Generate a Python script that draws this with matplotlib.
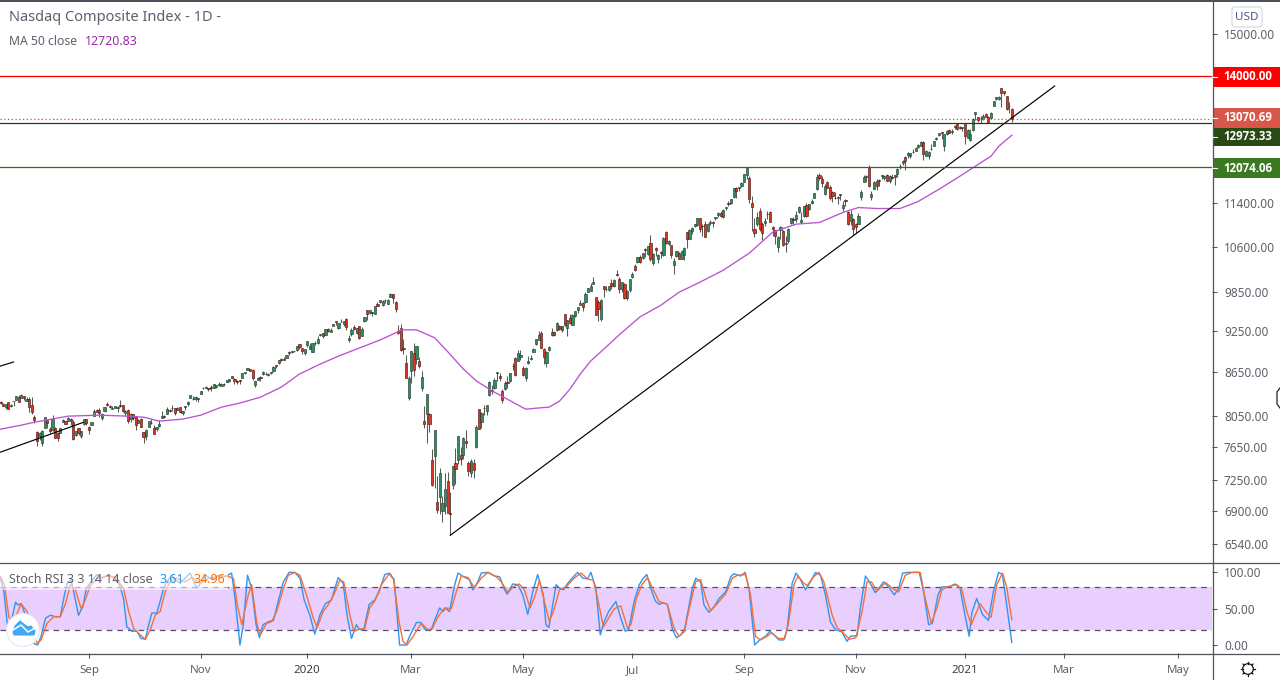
from matplotlib import pyplot as plt
from matplotlib.patches import Rectangle, Circle, FancyBboxPatch, Polygon
from matplotlib.ticker import FormatStrFormatter, NullLocator
import numpy as np

plt.rcParams['font.family'] = ['Noto Sans', 'DejaVu Sans']

# daily candles, 16 Jul 2019 - 29 Jan 2021, one line per month
opens = [
    8233,8212,8165,8232,8183,8248,8269,8311,8290,8324,8249,8278,
    8195,8041,7851,7792,7700,7900,8003,7880,7872,7900,7834,7836,7980,7985,7985,8010,7980,7805,7890,7800,7945,8010,
    7906,7932,8053,8136,8130,8031,8122,8214,8184,8145,8152,8160,8196,8192,8085,8130,8018,8075,8040,7966,
    8015,7845,7788,7910,7960,7890,7886,7916,8032,8040,8080,8122,8160,8156,8130,8170,8085,8170,8210,8292,8280,8280,8275,
    8350,8430,8434,8425,8440,8430,8442,8468,8452,8479,8512,8530,8590,8550,8530,8535,8570,8640,8680,8690,
    8680,8465,8540,8580,8625,8620,8610,8640,8660,8750,8780,8830,8840,8850,8940,8940,8955,8960,9050,8995,8920,
    9039,8976,8943,9071,9068,9180,9212,9193,9282,9230,9316,9395,9300,9380,9350,9426,9107,9198,9315,9220,9324,
    9175,9405,9563,9518,9540,9505,9666,9690,9640,9725,9665,9780,9820,9700,9240,9300,9000,8776,8290,
    8667,8920,8840,8800,8430,7990,8074,8080,7490,7550,7000,7060,6900,6950,7240,6870,7200,7460,7500,7560,7560,7735,
    7460,7340,7460,7650,8140,7980,8160,8120,8330,8400,8430,8640,8600,8390,8420,8510,8520,8740,8850,8810,8870,
    8700,8560,8780,8830,8940,9050,9120,9220,8980,8780,8960,9180,9230,9260,9320,9270,9500,9290,9450,9340,
    9470,9570,9650,9680,9700,9850,9870,9990,9770,9690,9430,9950,9910,9890,10000,9950,10140,10070,9900,9980,9760,9880,
    10090,10280,10350,10430,10420,10570,10480,10670,10330,10580,10400,10520,10470,10870,10650,10630,10300,10450,10500,10400,10470,10860,
    10740,10880,10970,10990,11110,10970,11000,10880,11020,11050,11110,11170,11200,11130,11290,11400,11400,11500,11680,11680,11720,
    11780,11930,11860,11400,10920,11010,11240,11000,11020,11190,11230,10950,10900,10600,10900,10890,10650,10700,11020,11100,11090,
    11230,11050,11150,11360,11280,11400,11480,11660,11930,11850,11560,11780,11700,11590,11490,11490,11550,11300,11440,11230,11070,11100,
    11000,11010,11500,11790,11890,12080,11500,11660,11800,11800,11900,11860,11930,11800,11890,11920,11950,12100,12150,12280,
    12310,12290,12370,12400,12470,12500,12590,12300,12300,12440,12500,12650,12720,12780,12500,12750,12820,12790,12920,12950,12900,12870,
    12960,12670,12620,12820,13170,13100,13090,13060,13170,13110,13090,13330,13500,13490,13730,13680,13550,13330,13280,
]
highs = [
    8252,8218,8212,8238,8212,8256,8324,8330,8340,8325,8300,8299,
    8311,8060,7852,7840,7866,8042,8004,7912,8066,7910,7848,7900,8018,7991,8035,8020,8000,7854,7898,7864,8019,8016,
    7917,7979,8145,8141,8160,8091,8175,8241,8199,8184,8187,8186,8260,8194,8133,8140,8085,8078,8049,8017,
    8027,7846,7878,7985,8010,7930,7914,7998,8115,8066,8165,8140,8191,8160,8167,8177,8120,8190,8255,8334,8320,8318,8297,
    8390,8444,8455,8432,8473,8481,8467,8510,8494,8500,8543,8552,8593,8560,8534,8541,8632,8650,8706,8695,
    8690,8525,8578,8592,8670,8650,8630,8656,8736,8754,8823,8849,8869,8893,8945,8957,8953,9022,9053,8997,8974,
    9093,9066,9072,9092,9168,9204,9212,9274,9298,9294,9357,9390,9372,9424,9402,9451,9187,9287,9332,9300,9325,
    9304,9467,9568,9572,9542,9629,9700,9725,9724,9735,9738,9838,9821,9705,9345,9347,9130,8890,8600,
    8953,9070,9026,8860,8670,8180,8348,8090,7630,7875,7300,7400,7070,7340,7350,7120,7420,7640,7800,7650,7775,7875,
    7480,7510,7510,7930,8150,8100,8200,8200,8520,8470,8570,8650,8640,8410,8530,8600,8640,8780,8860,8960,8970,
    8730,8720,8880,8900,8990,9125,9250,9240,8990,8950,9020,9290,9250,9380,9340,9330,9500,9415,9500,9500,
    9560,9610,9720,9690,9850,9925,10000,10090,9770,9720,9740,9950,9950,9950,10060,10060,10220,10100,10020,9995,9880,10070,
    10180,10310,10440,10460,10500,10590,10620,10820,10500,10610,10480,10540,10780,10880,10720,10640,10420,10540,10510,10560,10600,10870,
    10920,10950,11010,11110,11110,11010,11060,11020,11080,11060,11130,11220,11240,11280,11320,11420,11470,11670,11690,11700,11780,
    11950,12074,11910,11530,11110,11220,11300,11040,11120,11240,11250,10970,10900,10790,10970,10900,10800,10940,11120,11140,11250,
    11340,11220,11340,11400,11370,11460,11580,11940,11960,11900,11740,11800,11730,11610,11600,11520,11560,11430,11470,11240,11270,11110,
    11030,11200,11640,11920,11920,12110,11620,11800,11840,11840,11930,11920,11950,11920,11950,11930,12050,12130,12210,12290,
    12370,12360,12440,12470,12530,12600,12610,12410,12400,12540,12600,12690,12770,12780,12750,12820,12850,12840,12930,12970,12910,12900,
    12960,12840,12860,13090,13210,13110,13130,13160,13190,13130,13200,13460,13540,13560,13730,13680,13550,13430,13290,
]
lows = [
    8206,8184,8150,8141,8172,8190,8260,8232,8288,8271,8246,8100,
    8080,7960,7662,7740,7663,7892,7890,7830,7860,7772,7731,7832,7977,7946,7982,7930,7744,7792,7801,7768,7940,7935,
    7819,7933,8053,8100,8035,7999,8100,8188,8159,8140,8152,8100,8175,8098,8051,7956,7980,7999,7875,7965,
    7905,7700,7742,7905,7943,7820,7859,7903,8030,8030,8078,8109,8122,8065,8130,8103,8060,8129,8189,8290,8260,8252,8243,
    8343,8420,8422,8387,8390,8427,8434,8460,8450,8450,8510,8515,8560,8478,8487,8480,8570,8617,8680,8660,
    8542,8435,8535,8531,8610,8605,8590,8628,8645,8700,8770,8810,8825,8850,8900,8925,8938,8958,8976,8905,8900,
    9011,8975,8943,9042,9060,9165,9150,9193,9234,9225,9316,9340,9280,9378,9320,9270,9089,9175,9262,9195,9121,
    9170,9380,9420,9510,9482,9500,9630,9685,9635,9680,9664,9780,9680,9534,9207,8944,8905,8565,8265,
    8490,8590,8760,8700,8380,7900,7700,7850,7190,7160,6880,6860,6780,6860,6870,6630,7150,7210,7450,7430,7510,7640,
    7300,7290,7280,7640,7880,7900,8060,8060,8320,8350,8420,8520,8530,8230,8400,8430,8510,8680,8590,8800,8820,
    8600,8530,8760,8820,8930,9040,9110,9000,8760,8720,8950,9170,9170,9250,9260,9230,9330,9170,9350,9340,
    9460,9530,9640,9560,9680,9850,9870,9980,9490,9400,9400,9780,9870,9870,9900,9940,10110,9830,9860,9750,9720,9860,
    10080,10190,10330,10330,10390,10440,10460,10370,10300,10450,10330,10420,10450,10650,10630,10410,10150,10430,10390,10400,10380,10580,
    10740,10830,10950,10970,10870,10800,10770,10870,10990,10950,11080,11140,11130,11120,11260,11340,11370,11490,11480,11620,11700,
    11780,11840,11400,10880,10780,10970,10890,10730,10980,11100,11040,10790,10650,10520,10740,10620,10520,10680,11000,10990,11040,
    11200,11020,11130,11140,11270,11380,11480,11640,11820,11690,11540,11670,11450,11410,11460,11380,11440,11250,11340,10990,10990,10820,
    10840,11000,11450,11780,11790,11700,11450,11650,11640,11720,11850,11820,11800,11770,11850,11730,11880,12030,12120,12020,
    12260,12260,12360,12390,12450,12490,12210,12290,12230,12420,12500,12630,12700,12650,12400,12730,12770,12740,12860,12820,12840,12810,
    12540,12660,12600,12810,13040,13000,12970,13040,13100,12980,13080,13330,13470,13470,13310,13580,13260,13180,13000,
]
closes = [
    8222,8186,8207,8146,8204,8251,8321,8238,8330,8293,8273,8175,
    8111,8004,7726,7833,7862,8040,7959,7863,8017,7774,7767,7896,8002,7949,8020,7991,7751,7853,7827,7856,8016,7963,
    7874,7977,8116,8103,8087,8084,8170,8195,8176,8153,8186,8177,8182,8118,8112,7993,8077,8031,7940,7999,
    7908,7785,7872,7982,7956,7823,7903,7951,8057,8048,8149,8125,8157,8090,8163,8105,8120,8186,8243,8326,8277,8304,8292,
    8386,8434,8435,8411,8434,8476,8464,8486,8482,8479,8541,8550,8571,8526,8506,8520,8632,8648,8705,8665,
    8568,8521,8567,8570,8656,8621,8616,8654,8717,8735,8814,8823,8827,8887,8924,8945,8952,9022,9007,8945,8973,
    9092,9020,9071,9068,9129,9203,9178,9274,9251,9258,9357,9388,9370,9383,9402,9314,9139,9269,9275,9298,9150,
    9273,9467,9508,9572,9520,9628,9638,9725,9711,9731,9732,9817,9751,9577,9221,8965,8980,8567,8567,
    8952,8684,9019,8738,8576,7950,8344,7952,7201,7875,6904,7334,6989,7150,6880,6861,7418,7384,7798,7502,7774,7700,
    7360,7487,7374,7913,7887,8090,8153,8192,8515,8393,8532,8650,8560,8263,8495,8495,8634,8730,8607,8915,8889,
    8605,8710,8810,8854,8979,9121,9192,9002,8863,8943,9014,9235,9185,9375,9284,9325,9340,9412,9369,9490,
    9552,9609,9683,9616,9814,9924,9953,10020,9492,9589,9726,9895,9910,9943,9946,10056,10131,9909,10017,9757,9874,10059,
    10154,10207,10433,10344,10492,10547,10617,10390,10488,10550,10473,10503,10767,10680,10706,10461,10363,10536,10402,10542,10587,10745,
    10902,10941,11002,11108,10914,10968,10782,11012,11042,11019,11129,11210,11146,11265,11311,11380,11466,11665,11625,11696,11775,
    11939,12056,11458,11313,10847,11141,10919,10853,11056,11190,11050,10910,10793,10778,10963,10632,10672,10914,11117,11085,11168,
    11326,11075,11332,11154,11364,11420,11579,11876,11863,11768,11713,11671,11478,11516,11485,11506,11548,11358,11431,10999,11185,10912,
    10957,11161,11590,11891,11895,11713,11553,11786,11710,11829,11925,11899,11802,11904,11855,11881,12037,12095,12206,12199,
    12355,12349,12377,12464,12519,12583,12339,12406,12378,12440,12595,12658,12764,12756,12742,12807,12771,12805,12900,12850,12870,12888,
    12698,12819,12741,13067,13202,13036,13072,13129,13112,12999,13197,13457,13530,13543,13635,13626,13271,13337,13071,
]

# MA 50
ma_bars = [0,8,13,26,38,49,55,61,70,77,85,92,100,108,115,123,131,138,146,152,154,160,167,172,178,183,189,197,202,206,211,215,219,223,227,231,238,246,254,261,269,278,288,297,306,315,324,330,337,346,353,361,369,375,381,384,389]
ma_vals = [7881,7933,7971,8050,8063,8050,8037,7985,8011,8063,8169,8223,8303,8439,8622,8763,8892,8994,9113,9220,9265,9265,9146,8942,8693,8526,8390,8236,8142,8155,8169,8249,8411,8622,8806,8942,9190,9463,9644,9850,10012,10210,10497,10862,11005,11035,11216,11307,11289,11289,11419,11649,11898,12094,12294,12495,12720]

# Stoch RSI, K and D
k_bars = [0,1.3,2.8,4,5.8,6.7,7.9,9.6,11.3,12.8,14.3,15.6,17.3,19.2,21.1,23,24.3,25.6,27.1,28.8,30,31.7,33,34.8,37.1,39,41.2,43.5,45.8,47.3,48.6,50.5,52.5,54,55.7,57,58.2,60.1,61.4,62.7,64,65.9,67.2,69.1,71,72.9,75.5,77.4,78.7,81.3,83.8,86.4,88.9,90.2,92.1,93.4,95,96.6,98.3,
    99.6,101,103,105,106.8,108.8,111,113.2,115.2,116.8,119,120.9,122.8,125,127.3,129.9,131.8,133.3,135,136.9,138.2,139.7,141.8,144,145.6,147.8,149.7,151.4,153.5,156,157.6,160,161.6,163.4,165.7,167,168.9,170.2,171.1,172.7,174.7,176,178.1,180.4,181.7,183.6,184.9,187.5,190,192,193.9,194.9,197,
    199,200.9,202.8,204.7,206.6,208.8,209.8,210.9,212.4,213.7,215.2,216.6,218.2,220.1,222,224,225.8,227.1,229,230.7,232.2,233.9,236.7,238.6,240.3,241.6,243.7,245.7,247,248.6,250.1,251.8,253.3,254.9,256.5,258.5,260,261.7,263.2,266.1,267.4,269.3,270.6,272.5,274.5,276.4,278.9,280.9,282.1,284.7,286.4,287.9,290.1,292,294.3,295.9,297.5,
    299.4,301.3,302.6,304.5,306,307.7,309.6,311.2,313.5,315.4,317.3,319.2,321.2,323.7,325.6,326.9,329.5,330.7,332.7,334.2,336.5,339.7,341.6,343.8,345.5,347,349.3,353.4,355.1,357,358.5,360.6,362.1,364.7,367.2,369.1,371,372.6,373.6,375.5,377.7,380,381.9,383.9,385.4,389]
k_vals = [92,73,23,30,59,55,57,41,18,2,0,12,37,41,39,39,64,85,90,62,41,53,78,87,97,92,96,93,83,64,25,19,19,9,8,28,44,44,60,78,87,96,90,85,92,99,78,87,97,90,96,94,99,64,0,28,96,78,28,
    10,28,32,34,60,87,100,100,92,62,41,15,41,57,62,93,85,41,9,28,21,21,56,62,73,97,99,90,0,0,14,31,31,21,21,34,51,46,51,46,83,99,94,90,76,87,99,100,95,94,76,70,84,
    83,69,42,73,97,69,28,24,55,83,78,76,85,93,100,92,91,100,78,14,32,46,60,37,19,21,60,83,91,97,78,61,56,58,56,21,10,14,23,78,92,87,55,45,53,64,73,94,98,95,100,78,0,7,12,19,14,
    7,7,23,85,99,90,76,85,100,96,69,32,21,18,5,12,13,50,95,87,72,87,80,69,78,99,100,100,73,28,30,69,80,80,84,78,41,12,44,64,42,34,73,100,97,3.61]
d_bars = [0,1.5,3.2,4.5,6.1,7.9,10.2,12.2,14.1,15.6,17.9,20.5,23,25,26.9,28.8,31,32.6,34.5,37.1,41,44.1,47.3,49.3,51.2,53.7,55.7,57.6,59.5,61.4,63.3,65.3,67.8,71,73.6,76.8,80,83.2,87,89.6,91.1,92.8,95.3,96.6,98.5,
    99.8,102.4,104.3,106.2,108.8,110.7,113.2,115.2,117.7,120.3,121.8,124.1,126,128.2,130.5,132,134.4,135.9,138.2,140.1,142,144,146.5,149.5,151.2,153.3,154.8,156.4,158.7,161.9,164.4,166.1,168.3,170.8,173.4,175.3,177.2,179.8,182.3,184.9,187.5,190.7,192.6,195.2,197.1,
    199.5,201.5,203.7,205.7,207.3,209.2,211.1,213,215,217.5,220.7,223.3,225.8,228,229.7,231.9,233.9,236.1,238.6,241.2,242.5,244.6,246.7,248.9,250.8,253.3,256.5,259.1,261,263,265.1,267.4,269.3,271.3,273.2,275.7,278.9,281.5,283.4,286.6,288.5,290.4,292.3,294.9,296.6,299.2,
    301.7,303.2,305.2,306.8,309,310.3,312.8,314.8,316.7,319.9,321.8,324.4,326.5,329,331.4,333.3,335,337.1,340.4,343.5,345.5,348,350.6,353.8,355.7,358,360.2,362.1,364,367.9,369.8,371.7,373.4,374.9,376.8,379,381,383.2,385.4,387,389]
d_vals = [94,83,39,32,41,57,46,23,2,7,30,39,39,57,83,76,50,62,82,91,95,94,78,46,23,14,8,21,41,46,73,87,92,87,93,85,92,94,95,92,55,28,69,83,32,
    13,30,32,46,78,96,100,96,69,37,24,46,55,69,89,87,41,19,22,23,51,61,83,98,90,32,5,0,12,30,21,23,39,51,50,73,95,93,79,92,100,94,87,72,80,
    84,76,51,69,89,60,32,50,76,80,92,99,91,89,64,25,37,50,54,23,28,64,83,93,78,60,56,23,12,18,53,87,90,64,47,57,70,92,96,97,69,12,7,12,17,9,
    9,32,83,95,85,82,94,100,87,41,24,16,8,10,46,87,87,74,86,77,73,96,100,100,64,30,51,76,80,83,76,46,28,41,57,46,38,83,99,80,34.96]

# drawn lines: (bar, price) ends
trend_main = ([173, 405.5], [6630, 13782])
trend_left = ([0, 32], [7592, 7971])
trend_top = ([0, 5], [8735, 8792])
level_red = 14000
level_last = 13070.69
level_dark = 12973.33
level_green = 12074.06

price_ticks = [15000, 11400, 10600, 9850, 9250, 8650, 8050, 7650, 7250, 6900, 6540]
stoch_ticks = [100, 50, 0]
month_bars = [34, 77, 118, 158, 201, 243, 286, 329, 371, 409, 453]
month_labels = ['Sep', 'Nov', '2020', 'Mar', 'May', 'Jul', 'Sep', 'Nov', '2021', 'Mar', 'May']

grey = '#5d606b'
axis_col = '#50535e'
W, H = 1280, 680

fig = plt.figure(figsize=(W / 100, H / 100), dpi=100)
ax = fig.add_axes([0, (H - 562) / H, 1212 / W, 561 / H])
ax2 = fig.add_axes([0, (H - 653) / H, 1212 / W, 90 / H])
ov = fig.add_axes([0, 0, 1, 1], zorder=10)
ov.set_xlim(0, W)
ov.set_ylim(H, 0)
ov.axis('off')
ov.patch.set_alpha(0)

bars = np.arange(len(closes))
o = np.array(opens, float)
c = np.array(closes, float)
up = c >= o

ax.set_yscale('log')
ax.vlines(bars, lows, highs, color='#5a5a5a', lw=0.75, zorder=2)
ax.bar(bars[up], c[up] - o[up], bottom=o[up], width=0.82, color='#2f8f63', edgecolor='#23402f', linewidth=0.45, zorder=3)
ax.bar(bars[~up], o[~up] - c[~up], bottom=c[~up], width=0.82, color='#dc3520', edgecolor='#4a1a12', linewidth=0.45, zorder=3)
ax.plot(ma_bars, ma_vals, color='#b952d2', lw=0.95, zorder=4)

ax.plot(*trend_main, color='black', lw=0.85, zorder=5)
ax.plot(*trend_left, color='black', lw=0.85, zorder=5)
ax.plot(*trend_top, color='black', lw=0.85, zorder=5)
ax.axhline(level_red, color='#f00000', lw=0.9, zorder=5)
ax.axhline(level_last, color='#e0483a', lw=0.9, ls=(0, (1, 2)), zorder=5)
ax.axhline(level_dark, color='#233f10', lw=0.9, zorder=5)
ax.axhline(level_green, color='#2e6b1e', lw=0.9, zorder=5)

xlim = (-0.2, 466)
ax.set_xlim(*xlim)
ax.set_ylim(6348, 15828)
ax.set_xticks([])
ax.yaxis.tick_right()
ax.set_yticks(price_ticks)
ax.yaxis.set_minor_locator(NullLocator())
ax.yaxis.set_major_formatter(FormatStrFormatter('%.2f'))
ax.tick_params(axis='y', length=3.6, width=0.75, color=axis_col, labelcolor=grey, labelsize=8.5, pad=5)

# stoch pane
ax2.axhspan(20, 80, color='#e9cffd', lw=0, zorder=1)
ax2.axhline(80, color='#5b4b6b', lw=0.9, ls=(0, (4.5, 4)), zorder=2)
ax2.axhline(20, color='#5b4b6b', lw=0.9, ls=(0, (4.5, 4)), zorder=2)
ax2.plot(k_bars, k_vals, color='#2f95f0', lw=1.0, zorder=3)
ax2.plot(d_bars, d_vals, color='#f4703a', lw=1.0, zorder=4)
ax2.set_xlim(*xlim)
ax2.set_ylim(-11, 112.9)
ax2.yaxis.tick_right()
ax2.set_yticks(stoch_ticks)
ax2.yaxis.set_major_formatter(FormatStrFormatter('%.2f'))
ax2.tick_params(axis='y', length=3.6, width=0.75, color=axis_col, labelcolor=grey, labelsize=8.5, pad=5)
ax2.set_xticks(month_bars)
ax2.set_xticklabels(month_labels)
ax2.tick_params(axis='x', length=3.6, width=0.75, color=axis_col, labelcolor=grey, labelsize=8.3, pad=5)
for lab in ax2.get_xticklabels():
    if lab.get_text().startswith('20'):
        lab.set_fontweight('semibold')
        lab.set_color('#3a3d47')

for a in (ax, ax2):
    for sp in a.spines.values():
        sp.set_visible(False)
    a.patch.set_alpha(0)

# frame lines
ov.plot([0, W], [0.5, 0.5], color='#2a2e39', lw=1.2)
ov.plot([0, W], [562.5, 562.5], color=axis_col, lw=0.9)
ov.plot([0, W], [653.5, 653.5], color=axis_col, lw=0.9)
ov.plot([1212.5, 1212.5], [0, H], color=axis_col, lw=0.9)

# last value boxes
boxes = [
    (66.5, 87, '#ff0000', '14000.00'),
    (108, 127.5, '#d9574a', '13070.69'),
    (127.5, 146, '#2a4a14', '12973.33'),
    (158, 178, '#3a7a22', '12074.06'),
]
for top, bottom, col, txt in boxes:
    ov.add_patch(Rectangle((1213, top), W - 1213, bottom - top, color=col, lw=0))
    mid = (top + bottom) / 2
    ov.plot([1213, 1217], [mid, mid], color='white', lw=0.8)
    ov.text(1223, mid, txt, color='white', fontsize=8.3, fontweight='bold', family=['Open Sans', 'DejaVu Sans'], va='center', ha='left')

# USD button
ov.add_patch(FancyBboxPatch((1232, 7), 30, 20, boxstyle='round,pad=0,rounding_size=3', fc='white', ec='#d4d6dc', lw=0.8))
ov.text(1247, 17, 'USD', color='#4a5a8a', fontsize=8.4, ha='center', va='center')

# legends
ov.text(9, 17.5, 'Nasdaq Composite Index - 1D -', color='#5d606b', fontsize=10.5, va='center')
ov.text(9, 41.5, 'MA 50 close', color='#5d606b', fontsize=8.8, va='center')
ov.text(85, 41.5, '12720.83', color='#9c27b0', fontsize=8.9, va='center')
ov.add_patch(Rectangle((0, 572), 228, 17.5, color='white', alpha=0.55, lw=0))
ov.text(9, 579.5, 'Stoch RSI 3 3 14 14 close', color='#5d606b', fontsize=9, va='center')
ov.text(160, 579.5, '3.61', color='#2196f3', fontsize=9, va='center')
ov.text(193, 579.5, '34.96', color='#ff6d00', fontsize=9, va='center')

# logo
ov.add_patch(Circle((23, 630), 16.5, fc='white', ec='#e6e6ee', lw=0.8))
ov.add_patch(Polygon([(13, 632), (15, 626), (20, 621), (25, 625), (28, 627), (31, 626), (35, 631), (34, 635), (14, 635)], fc='#3fa9f5', ec='#3fa9f5', lw=0.8))
ov.plot([13, 21, 28, 35], [630, 625, 632, 628], color='white', lw=1.1)

# gear and scroll handle
ov.add_patch(Circle((1248, 669), 5.3, fc='white', ec='#131722', lw=0.9))
for ang in np.arange(0, 360, 45):
    dx, dy = np.cos(np.radians(ang)), np.sin(np.radians(ang))
    ov.plot([1248 + 5.3 * dx, 1248 + 7 * dx], [669 + 5.3 * dy, 669 + 7 * dy], color='#131722', lw=0.9)
ov.plot([1280, 1277, 1277, 1280], [388, 392, 404, 408], color='#222222', lw=0.9)

fig.savefig('out.png', dpi=100)
